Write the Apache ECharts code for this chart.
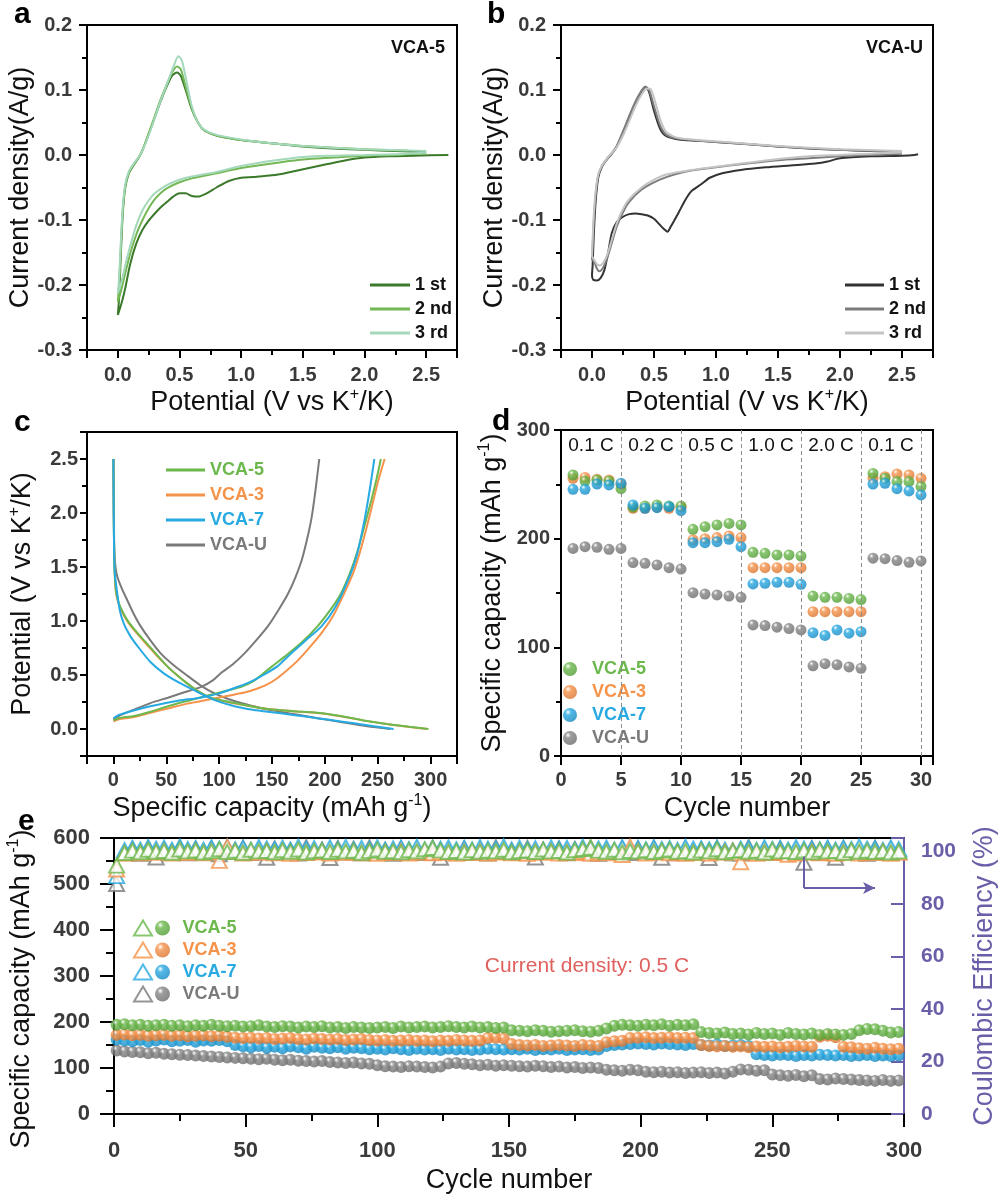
<!DOCTYPE html>
<html><head><meta charset="utf-8">
<script src="https://cdn.jsdelivr.net/npm/echarts@6/dist/echarts.min.js"></script>
<style>html,body{margin:0;padding:0;background:#fff}#c{width:1000px;height:1196px}</style>
</head><body><div id="c"></div>
<script>
// ---------------- DATA ----------------
// Panel a: CV of VCA-5, [potential V, current A/g]
const cvA1 = [[2.68,0.000],[2.4,-0.001],[2.2,-0.002],[2.0,-0.004],[1.85,-0.008],[1.7,-0.014],[1.55,-0.02],[1.4,-0.026],[1.3,-0.03],[1.2,-0.032],[1.1,-0.034],[1.0,-0.035],[0.9,-0.04],[0.8,-0.05],[0.72,-0.059],[0.65,-0.064],[0.6,-0.063],[0.55,-0.059],[0.5,-0.059],[0.45,-0.064],[0.4,-0.072],[0.35,-0.08],[0.3,-0.09],[0.25,-0.101],[0.2,-0.115],[0.15,-0.136],[0.1,-0.168],[0.06,-0.205],[0.03,-0.228],[0.0,-0.246],
  [0.01,-0.22],[0.025,-0.15],[0.04,-0.09],[0.06,-0.05],[0.09,-0.028],[0.13,-0.015],[0.17,-0.004],[0.2,0.007],[0.25,0.032],[0.3,0.058],[0.35,0.084],[0.4,0.107],[0.44,0.122],[0.48,0.127],[0.51,0.122],[0.55,0.1],[0.6,0.07],[0.65,0.05],[0.7,0.038],[0.8,0.03],[0.9,0.026],[1.0,0.023],[1.25,0.018],[1.5,0.013],[1.75,0.01],[2.0,0.008],[2.25,0.006],[2.5,0.005]];
const cvA2 = [[2.5,0.003],[2.25,0.0],[2.0,-0.001],[1.75,-0.004],[1.5,-0.007],[1.25,-0.013],[1.0,-0.02],[0.9,-0.024],[0.8,-0.028],[0.7,-0.032],[0.6,-0.036],[0.5,-0.042],[0.4,-0.051],[0.35,-0.058],[0.3,-0.068],[0.25,-0.082],[0.2,-0.1],[0.15,-0.122],[0.1,-0.152],[0.06,-0.182],[0.03,-0.206],[0.0,-0.226],
  [0.01,-0.2],[0.025,-0.14],[0.04,-0.085],[0.06,-0.048],[0.09,-0.027],[0.13,-0.014],[0.17,-0.003],[0.2,0.008],[0.25,0.033],[0.3,0.06],[0.35,0.087],[0.4,0.11],[0.44,0.127],[0.48,0.136],[0.51,0.132],[0.55,0.105],[0.6,0.072],[0.65,0.05],[0.7,0.038],[0.8,0.03],[1.0,0.023],[1.25,0.018],[1.5,0.014],[2.0,0.009],[2.35,0.007]];
const cvA3 = [[2.5,0.004],[2.25,0.001],[2.0,0.0],[1.75,-0.001],[1.5,-0.003],[1.25,-0.009],[1.0,-0.017],[0.8,-0.026],[0.6,-0.033],[0.5,-0.038],[0.4,-0.046],[0.3,-0.059],[0.25,-0.07],[0.2,-0.085],[0.15,-0.108],[0.1,-0.14],[0.06,-0.17],[0.03,-0.195],[0.0,-0.213],
  [0.01,-0.19],[0.025,-0.13],[0.04,-0.08],[0.06,-0.045],[0.09,-0.025],[0.13,-0.013],[0.17,-0.003],[0.2,0.007],[0.25,0.03],[0.3,0.057],[0.35,0.085],[0.4,0.11],[0.45,0.135],[0.49,0.152],[0.52,0.145],[0.56,0.11],[0.6,0.075],[0.65,0.05],[0.7,0.039],[0.8,0.031],[1.0,0.024],[1.25,0.018],[1.5,0.014],[2.0,0.009],[2.5,0.006]];
// Panel b: CV of VCA-U
const cvB1 = [[2.63,0.001],[2.6,0.0],[2.5,-0.001],[2.25,-0.002],[2.0,-0.005],[1.9,-0.01],[1.8,-0.013],[1.6,-0.016],[1.4,-0.019],[1.2,-0.023],[1.05,-0.028],[0.95,-0.035],[0.88,-0.045],[0.8,-0.056],[0.75,-0.07],[0.7,-0.088],[0.66,-0.102],[0.63,-0.112],[0.61,-0.118],[0.58,-0.114],[0.54,-0.106],[0.5,-0.098],[0.45,-0.093],[0.4,-0.091],[0.35,-0.09],[0.3,-0.091],[0.25,-0.095],[0.2,-0.103],[0.16,-0.12],[0.13,-0.15],[0.1,-0.177],[0.07,-0.189],[0.04,-0.193],[0.01,-0.192],[0.0,-0.185],
  [0.005,-0.17],[0.015,-0.12],[0.03,-0.07],[0.05,-0.035],[0.08,-0.018],[0.12,-0.007],[0.16,0.002],[0.2,0.013],[0.25,0.035],[0.3,0.058],[0.35,0.08],[0.4,0.098],[0.43,0.105],[0.46,0.097],[0.5,0.068],[0.55,0.04],[0.6,0.029],[0.7,0.024],[0.85,0.022],[1.0,0.02],[1.25,0.017],[1.5,0.013],[1.75,0.01],[2.0,0.008],[2.25,0.006],[2.5,0.005]];
const cvB2 = [[2.5,0.002],[2.25,0.0],[2.0,-0.002],[1.75,-0.005],[1.5,-0.008],[1.25,-0.013],[1.0,-0.019],[0.8,-0.024],[0.7,-0.028],[0.6,-0.034],[0.5,-0.042],[0.4,-0.053],[0.3,-0.072],[0.25,-0.088],[0.2,-0.11],[0.16,-0.135],[0.12,-0.16],[0.09,-0.173],[0.06,-0.179],[0.04,-0.175],[0.02,-0.165],[0.0,-0.16],
  [0.005,-0.14],[0.015,-0.1],[0.03,-0.06],[0.05,-0.032],[0.08,-0.017],[0.12,-0.006],[0.16,0.003],[0.2,0.014],[0.25,0.036],[0.3,0.06],[0.35,0.082],[0.4,0.099],[0.43,0.105],[0.46,0.1],[0.5,0.075],[0.55,0.045],[0.6,0.031],[0.7,0.025],[1.0,0.02],[1.5,0.013],[2.0,0.008],[2.5,0.005]];
const cvB3 = [[2.5,0.004],[2.25,0.002],[2.0,0.0],[1.75,-0.002],[1.5,-0.006],[1.25,-0.012],[1.0,-0.018],[0.8,-0.023],[0.6,-0.03],[0.5,-0.038],[0.4,-0.05],[0.3,-0.068],[0.25,-0.083],[0.2,-0.105],[0.16,-0.13],[0.12,-0.155],[0.09,-0.166],[0.06,-0.17],[0.04,-0.168],[0.02,-0.162],[0.0,-0.155],
  [0.005,-0.13],[0.015,-0.09],[0.03,-0.055],[0.05,-0.03],[0.08,-0.016],[0.12,-0.006],[0.16,0.003],[0.2,0.012],[0.25,0.03],[0.3,0.052],[0.35,0.075],[0.4,0.093],[0.44,0.102],[0.47,0.102],[0.5,0.088],[0.55,0.055],[0.6,0.035],[0.7,0.026],[1.0,0.021],[1.5,0.014],[2.0,0.009],[2.5,0.006]];
// Panel c: charge/discharge profiles, [capacity mAh/g, potential V]
const dis5 = [[0,2.5],[0.3,2.0],[0.6,1.7],[1,1.5],[2,1.32],[4,1.2],[8,1.1],[13,1.01],[20,0.92],[29,0.82],[40,0.7],[51,0.58],[60,0.5],[70,0.42],[80,0.35],[89,0.3],[100,0.27],[115,0.24],[130,0.21],[146,0.185],[170,0.165],[193,0.15],[215,0.12],[240,0.075],[260,0.045],[280,0.02],[298,0.0]];
const chg5 = [[0,0.08],[5,0.1],[19.5,0.12],[35,0.16],[51.5,0.21],[70,0.26],[89,0.31],[105,0.35],[121,0.39],[132,0.44],[140,0.5],[150,0.58],[162,0.67],[178,0.8],[193,0.95],[205,1.1],[215,1.25],[224,1.45],[231,1.65],[238,1.9],[244,2.12],[249,2.32],[253,2.5]];
const dis3 = [[0,2.5],[0.3,2.0],[0.6,1.7],[1,1.5],[2,1.3],[4,1.19],[8,1.09],[13,1.0],[20,0.91],[29,0.81],[40,0.69],[51,0.58],[60,0.5],[70,0.42],[80,0.35],[89,0.3],[100,0.265],[115,0.235],[130,0.21],[146,0.185],[170,0.165],[193,0.148],[215,0.118],[240,0.073],[260,0.043],[280,0.018],[297,0.0]];
const chg3 = [[0,0.07],[5,0.09],[19.5,0.11],[35,0.15],[51.5,0.19],[70,0.235],[89,0.27],[105,0.3],[115,0.32],[125,0.34],[135,0.37],[145,0.41],[155,0.47],[165,0.55],[175,0.64],[186,0.76],[197,0.89],[208,1.05],[218,1.25],[227,1.45],[235,1.7],[243,2.0],[250,2.28],[256.5,2.5]];
const dis7 = [[0,2.5],[0.3,2.0],[0.6,1.7],[1.2,1.45],[3.7,1.25],[6,1.1],[10,0.97],[16,0.86],[22.6,0.77],[35,0.62],[47,0.52],[60,0.44],[70,0.39],[82,0.33],[95,0.27],[114.6,0.21],[130,0.18],[146,0.16],[170,0.13],[193,0.1],[215,0.07],[240,0.035],[265,0.0]];
const chg7 = [[0,0.1],[5,0.13],[15,0.16],[35,0.21],[60,0.26],[82,0.29],[100,0.33],[114.6,0.38],[128,0.43],[140,0.49],[155,0.58],[168,0.7],[183,0.83],[196.8,0.95],[210,1.13],[222,1.38],[230,1.6],[238,1.96],[243,2.25],[246.8,2.5]];
const disU = [[0,2.5],[0.3,2.1],[0.6,1.8],[1,1.62],[2,1.5],[3.7,1.41],[8,1.3],[13.2,1.19],[19,1.07],[25.8,0.95],[35,0.82],[44.7,0.7],[57,0.59],[70.4,0.49],[83,0.4],[95.6,0.33],[108,0.28],[120.8,0.24],[133,0.21],[146,0.18],[170,0.14],[193,0.1],[215,0.065],[240,0.025],[262,0.0]];
const chgU = [[0,0.09],[5,0.12],[19.5,0.18],[35,0.24],[51.5,0.29],[67,0.34],[83,0.39],[94,0.45],[102,0.52],[113,0.6],[124,0.7],[135,0.82],[146,0.95],[156,1.1],[165,1.25],[172,1.4],[178,1.56],[183,1.75],[187.5,1.96],[191,2.2],[194.7,2.5]];
// Panel d: rate capability, cycles 1..30
const rateLabels = ['0.1 C','0.2 C','0.5 C','1.0 C','2.0 C','0.1 C'];
const rateBounds = [0,5,10,15,20,25,30];
const rate5 = [258.6,253,254,253,246, 229,230,231,230,230, 208.6,211,212.6,214,212.6, 187.4,186.5,185,185,184, 147.2,146,146,145,144, 260,255.5,252.5,252.5,248];
const rate3 = [255.5,256.4,254.6,254,250, 228,228,229,228,229, 199,200,201,202.5,201, 173.3,173.3,173.3,173.3,173.3, 132.8,132.8,132.8,132.8,132.8, 255.5,257,259.5,258.6,255.5];
const rate7 = [245.4,245.4,250.3,249.4,251, 231,228,228.5,229.4,225.8, 196.3,196.3,197.2,199.4,192.6, 158.3,158.9,159.8,159.8,158, 113.5,111,116,113,114.4, 250.3,251,246,243.9,240.2];
const rateU = [191,192.6,192,190.2,191, 178,177.3,175.8,173.3,172, 150.3,149,148.2,147.2,146, 120.6,120,118.5,117.3,116, 83,85,84,82,80.7, 182,181.6,179.8,178.2,179.5];
// Panel e: long cycling, one value every CYCLE_STEP cycles starting at cycle 1
const CYCLE_STEP = 3;
const cap5 = [194,195,193,194,192,193,194,192,193,191, 193,192,194,192,191,192,190,191,193,190, 189,191,190,188,190,189,191,188,189,187, 189,188,187,188,189,187,190,188,189,190, 188,189,191,189,188,190,188,189,187,188, 182,181,180,182,181,179,180,181,182,180, 179,181,186,192,194,193,192,194,193,195, 192,194,193,195,178,176,175,177,174,175, 173,176,174,175,172,176,174,173,175,172, 174,173,172,174,182,185,184,181,177,178];
const cap3 = [172,173,171,172,170,171,172,170,171,169, 170,171,169,170,168,166,165,166,164,165, 163,164,165,163,162,164,163,162,163,161, 162,163,161,160,161,159,160,161,159,160, 158,160,159,161,160,159,160,165,166,164, 152,150,149,150,148,149,150,149,148,150, 149,148,156,158,159,165,166,167,165,166, 167,165,166,165,150,148,147,148,146,147, 145,147,146,147,145,146,148,147,146,168, 170,167,146,145,143,142,144,142,141,142];
const cap7 = [162,160,158,161,157,160,162,158,159,161, 157,160,159,161,158,150,147,145,148,144, 146,143,147,145,142,146,144,143,145,142, 144,143,141,142,140,143,141,139,142,140, 141,139,142,140,141,139,140,142,141,140, 141,140,142,139,141,140,142,139,140,141, 139,140,148,150,151,152,153,152,151,153, 152,151,150,152,150,149,151,148,149,150, 148,130,128,127,129,128,126,128,127,129, 128,127,128,126,127,128,126,127,126,127];
const capU = [138,136,135,134,132,133,131,130,129,128, 127,126,125,124,123,122,121,120,119,120, 118,117,118,116,115,114,115,113,112,111, 112,110,109,106,104,103,102,104,103,102, 101,103,110,111,109,108,106,107,105,106, 105,104,103,105,104,102,103,101,102,100, 101,100,96,95,94,96,95,92,91,92, 90,91,89,90,91,89,90,88,92,97, 96,94,95,86,84,83,85,82,84,76, 75,77,76,75,74,73,72,74,72,73];
const ce5 = [94.5,99.3,100.2,99.6,100.5,99.8,100.1,99.4,100.6,99.9, 100.3,99.5,100.0,100.7,99.7,100.2,99.4,100.5,99.9,100.1, 99.6,100.4,99.8,100.6,99.5,100.0,100.3,99.7,100.5,99.9, 100.2,99.4,100.1,100.6,99.8,100.0,99.6,100.4,99.9,100.7, 101.2,100.3,99.7,100.1,99.5,100.4,99.8,100.2,99.9,100.5, 99.6,100.0,100.3,99.7,100.6,99.9,100.1,99.5,100.4,100.8, 101.3,100.2,99.8,100.5,99.6,100.1,99.9,100.4,99.7,100.2, 100.6,99.8,100.0,99.5,100.3,99.9,100.7,99.6,100.1,100.4, 99.8,100.2,99.5,100.6,99.9,100.0,99.7,100.3,99.6,100.5, 99.9,100.1,99.4,100.4,99.8,100.2,99.7,100.0,99.5,99.9];
const ce3 = [93.0,99.0,99.6,99.2,100.0,99.4,99.8,99.1,99.7,99.3, 99.9,99.2,99.6,96.3,101.7,99.8,99.1,99.7,99.4,100.0, 99.2,99.6,99.0,99.8,99.3,99.5,99.9,99.1,99.7,99.4, 99.6,99.2,99.8,99.0,99.6,99.3,99.9,99.1,99.5,99.8, 99.2,99.6,99.4,99.0,99.7,99.3,99.9,99.1,99.5,99.8, 99.2,99.6,99.0,99.7,99.4,99.9,99.1,99.5,99.3,99.8, 99.0,99.6,99.2,99.7,98.5,101.7,99.9,99.1,99.5,99.8, 99.2,99.6,99.0,99.3,99.7,99.1,99.5,99.8,99.2,95.8, 99.4,99.0,99.6,99.3,99.7,98.6,99.1,99.5,99.8,99.2, 99.6,99.0,99.4,99.7,99.1,99.5,99.3,99.8,99.0,99.4];
const ce7 = [90.5,100.4,101.2,100.6,101.5,100.9,101.3,100.5,101.7,100.8, 101.1,100.6,101.4,100.9,101.6,100.7,101.2,100.5,101.5,101.0, 100.8,101.3,100.6,101.7,100.9,101.1,100.5,101.4,100.8,101.6, 100.7,101.2,100.9,101.5,100.6,101.0,101.3,100.8,101.6,100.5, 101.1,100.9,101.4,100.7,101.2,100.6,101.5,100.9,101.0,101.8, 100.6,101.3,100.8,101.1,100.5,101.4,100.9,101.2,100.7,101.6, 100.8,101.0,101.3,100.6,101.5,100.9,101.2,100.7,101.4,100.8, 101.1,100.5,101.6,100.9,101.0,100.7,101.3,100.6,99.2,100.9, 101.2,100.5,101.4,100.8,101.1,100.6,101.5,100.9,101.0,100.7, 101.3,100.6,101.2,100.8,101.7,100.9,101.1,100.5,101.4,100.8];
const ceU = [87.5,99.5,100.8,99.0,101.2,97.6,100.5,99.8,101.4,99.2, 100.9,99.6,101.1,98.8,100.4,99.9,101.3,99.3,100.7,97.5, 101.0,99.7,100.3,99.1,101.5,99.8,100.6,97.4,101.2,99.5, 100.9,99.2,101.4,99.9,100.5,99.0,101.1,99.6,100.8,99.3, 101.3,97.5,100.4,99.8,101.0,99.4,100.7,99.1,101.5,99.7, 100.2,99.5,101.2,97.6,100.6,99.9,101.0,99.2,100.8,99.6, 101.4,99.0,100.5,99.8,101.1,99.3,100.9,99.7,101.3,97.5, 100.4,99.2,101.0,99.6,100.7,97.4,101.2,99.8,100.3,99.1, 101.5,99.6,100.8,99.4,101.0,99.9,100.6,95.6,101.1,99.3, 100.9,97.5,101.2,99.7,100.4,99.0,101.3,99.5,100.7,99.8];
// arrow annotation in panel e (cycle, CE %)
const ceArrow = {cycle: 262, fromCE: 98, toCE: 86, toCycle: 289};

// ---------------- STYLE ----------------
const FONT = "'Liberation Sans', Arial, Helvetica, sans-serif";
const PURPLE = '#6a5ea8';
const C5 = '#6cb84c', C3 = '#f5934a', C7 = '#27a9e1', CU = '#858585';

function rich(color) {
  return {
    t: {fontSize: 27, fontFamily: FONT, color: color, lineHeight: 31},
    s: {fontSize: 16, fontFamily: FONT, color: color, verticalAlign: 'top', lineHeight: 16},
    p: {width: 26, lineHeight: 31}
  };
}
function clean(o) { Object.keys(o).forEach(k => { if (o[k] === undefined) delete o[k]; }); return o; }
function valAxis(o) {
  const col = o.color || '#000';
  return clean({
    type: 'value', gridIndex: o.grid, min: o.min, max: o.max, interval: o.interval, splitNumber: o.splitNumber,
    position: o.position,
    name: o.name, nameLocation: 'middle', nameGap: o.nameGap, nameRotate: o.nameRotate,
    nameTextStyle: {rich: rich(o.nameColor || '#111')},
    axisLine: {show: true, onZero: false, lineStyle: {color: col, width: 2}},
    axisTick: {show: true, inside: !!o.inside, length: o.tickLen || 8, lineStyle: {color: col, width: 2}},
    minorTick: {show: o.minor !== false, splitNumber: 2, length: o.minorLen || 5, lineStyle: {color: col, width: 2}},
    splitLine: {show: false}, minorSplitLine: {show: false},
    axisLabel: {show: true, color: o.labelColor || '#3a3a3a', fontWeight: 'bold', fontSize: o.labelSize || 20,
      fontFamily: FONT, margin: o.margin || 14, formatter: o.formatter, hideOverlap: false}
  });
}
const near = (a, b) => Math.abs(a - b) < 1e-6;
const fmt1 = v => near(v, 0) ? '0.0' : v.toFixed(1);
const fmtHalf = (lo, hi) => v => (v > lo - 1e-6 && v < hi + 1e-6 && near(v * 2, Math.round(v * 2))) ? fmt1(v) : '';
const fmtStep = (step, lo, hi) => v => (v > lo - 1e-6 && v < hi + 1e-6 && near(v / step, Math.round(v / step))) ? String(Math.round(v)) : '';

function sphere(base, dark) {
  return {type: 'radial', x: 0.36, y: 0.3, r: 0.75,
    colorStops: [{offset: 0, color: '#ffffff'}, {offset: 0.28, color: base}, {offset: 1, color: dark}]};
}
function lineS(name, data, color, ax) {
  return {type: 'line', name: name, data: data, xAxisIndex: ax, yAxisIndex: ax, symbol: 'none', showSymbol: false,
    smooth: 0.25, lineStyle: {color: color, width: 2}, itemStyle: {color: color}, z: 2};
}
function dotS(name, data, base, dark, xi, yi, size) {
  return {type: 'scatter', name: name, data: data, xAxisIndex: xi, yAxisIndex: yi, symbol: 'circle', symbolSize: size,
    itemStyle: {color: sphere(base, dark)}, z: 3};
}
function triS(name, data, color, xi, yi) {
  return {type: 'scatter', name: name, data: data, xAxisIndex: xi, yAxisIndex: yi, symbol: 'emptyTriangle', symbolSize: [15, 14],
    itemStyle: {color: color, borderColor: color, borderWidth: 1.8}, z: 3};
}
const byCycle = arr => arr.map((v, i) => [1 + i * CYCLE_STEP, v]);
const byIndex = arr => arr.map((v, i) => [i + 1, v]);

const POT = '{t|Potential (V vs K}{s|+}{t|/K)}';
const SPC = '{t|Specific capacity (mAh g}{s|-1}{t|)}';
const legText = {fontSize: 18, fontWeight: 'bold', fontFamily: FONT, color: '#111'};
const colItem = (name, color) => ({name: name, textStyle: {color: color, fontSize: 18, fontWeight: 'bold', fontFamily: FONT}});
const lineItem = (name, color) => ({name: name, icon: 'rect', textStyle: {color: color, fontSize: 18, fontWeight: 'bold', fontFamily: FONT}});
const trim = n => n.trim();

const gridBase = {show: true, borderColor: '#000', borderWidth: 2, containLabel: false, outerBoundsMode: 'none'};

const rateSeriesU = dotS('VCA-U ', byIndex(rateU), CU, '#6a6a6a', 3, 3, 11);
rateSeriesU.markLine = {silent: true, symbol: ['none', 'none'], label: {show: false},
  lineStyle: {type: [4, 3], color: '#8c8c8c', width: 1},
  data: rateBounds.slice(1).map(x => ({xAxis: x}))};
rateSeriesU.markArea = {silent: true, itemStyle: {color: 'rgba(0,0,0,0)'},
  label: {show: true, position: 'insideTop', distance: 6, color: '#111', fontSize: 19, fontFamily: FONT},
  data: rateLabels.map((t, i) => [{name: t, xAxis: rateBounds[i]}, {xAxis: rateBounds[i + 1]}])};

const ceGreen = triS('VCA-5 CE', byCycle(ce5), C5, 4, 5);
ceGreen.markLine = {silent: true, symbolSize: [9, 12], label: {show: false},
  lineStyle: {color: PURPLE, width: 2, type: 'solid'},
  data: [
    [{coord: [ceArrow.cycle, ceArrow.fromCE], symbol: 'none'}, {coord: [ceArrow.cycle, ceArrow.toCE], symbol: 'none'}],
    [{coord: [ceArrow.cycle, ceArrow.toCE], symbol: 'none'}, {coord: [ceArrow.toCycle, ceArrow.toCE], symbol: 'arrow'}]
  ]};

const option = {
  backgroundColor: '#ffffff',
  animation: false,
  textStyle: {fontFamily: FONT},
  grid: [
    Object.assign({left: 87, top: 25, width: 370, height: 325}, gridBase),
    Object.assign({left: 561, top: 25, width: 372, height: 325}, gridBase),
    Object.assign({left: 87, top: 432, width: 370, height: 324}, gridBase),
    Object.assign({left: 561, top: 430, width: 372, height: 326}, gridBase),
    Object.assign({left: 114, top: 838, width: 790, height: 276}, gridBase)
  ],
  xAxis: [
    valAxis({grid: 0, min: -0.25, max: 2.75, splitNumber: 6, name: POT, nameGap: 37, margin: 15, formatter: fmtHalf(0, 2.5)}),
    valAxis({grid: 1, min: -0.25, max: 2.75, splitNumber: 6, name: POT, nameGap: 37, margin: 15, formatter: fmtHalf(0, 2.5)}),
    valAxis({grid: 2, min: -25, max: 325, splitNumber: 7, name: SPC, nameGap: 37, margin: 14, formatter: fmtStep(50, 0, 300)}),
    valAxis({grid: 3, min: 0, max: 31, interval: 5, minor: false, tickLen: 9, name: '{t|Cycle number}', nameGap: 37, margin: 14, formatter: fmtStep(5, 0, 30)}),
    valAxis({grid: 4, min: 0, max: 300, interval: 50, tickLen: 13, minorLen: 7, labelSize: 22, name: '{t|Cycle number}', nameGap: 51, margin: 26, formatter: fmtStep(50, 0, 300)})
  ],
  yAxis: [
    valAxis({grid: 0, min: -0.3, max: 0.2, interval: 0.1, name: '{t|Current density(A/g)}', nameGap: 51, nameRotate: 90, margin: 15, formatter: fmt1}),
    valAxis({grid: 1, min: -0.3, max: 0.2, interval: 0.1, name: '{t|Current density(A/g)}', nameGap: 51, nameRotate: 90, margin: 15, formatter: fmt1}),
    valAxis({grid: 2, min: -0.25, max: 2.75, splitNumber: 6, tickLen: 7, name: POT, nameGap: 49, nameRotate: 90, margin: 9, formatter: fmtHalf(0, 2.5)}),
    valAxis({grid: 3, min: 0, max: 300, interval: 100, tickLen: 7, name: SPC, nameGap: 53, nameRotate: 90, margin: 11, formatter: fmtStep(100, 0, 300)}),
    valAxis({grid: 4, min: 0, max: 600, interval: 100, position: 'left', tickLen: 14, minorLen: 8, labelSize: 22, name: SPC + '{p|}', nameGap: 77, nameRotate: 90, margin: 24, formatter: fmtStep(100, 0, 600)}),
    valAxis({grid: 4, min: 0, max: 105, interval: 20, position: 'right', color: PURPLE, labelColor: PURPLE, nameColor: PURPLE, inside: true, minor: false, tickLen: 13, labelSize: 21, name: '{t|Coulombic Efficiency (%)}', nameGap: 65, nameRotate: 90, margin: 17, formatter: fmtStep(20, 0, 100)})
  ],
  legend: [
    {data: [lineItem('1 st', '#111'), lineItem('2 nd', '#111'), lineItem('3 rd', '#111')], left: 365, top: 271, orient: 'vertical', itemWidth: 40, itemHeight: 3, itemGap: 6, textStyle: legText, selectedMode: false},
    {data: [lineItem('1 st ', '#111'), lineItem('2 nd ', '#111'), lineItem('3 rd ', '#111')], formatter: trim, left: 840, top: 271, orient: 'vertical', itemWidth: 39, itemHeight: 3, itemGap: 6, textStyle: legText, selectedMode: false},
    {data: [lineItem('VCA-5', C5), lineItem('VCA-3', C3), lineItem('VCA-7', C7), lineItem('VCA-U', '#7a7a7a')], left: 161, top: 456, orient: 'vertical', itemWidth: 39, itemHeight: 3, itemGap: 7, textStyle: legText, selectedMode: false},
    {data: [colItem('VCA-5 ', C5), colItem('VCA-3 ', C3), colItem('VCA-7 ', C7), colItem('VCA-U ', '#7a7a7a')], formatter: trim, left: 558, top: 655, orient: 'vertical', itemWidth: 34, itemHeight: 14, itemGap: 5, textStyle: legText, selectedMode: false},
    {data: ['VCA-5 CE', 'VCA-3 CE', 'VCA-7 CE', 'VCA-U CE'], formatter: () => ' ', left: 128, top: 914, orient: 'vertical', itemWidth: 18, itemHeight: 15, itemGap: 4, textStyle: legText, selectedMode: false},
    {data: [colItem('VCA-5  ', C5), colItem('VCA-3  ', C3), colItem('VCA-7  ', C7), colItem('VCA-U  ', '#7a7a7a')], formatter: trim, left: 150, top: 914, orient: 'vertical', itemWidth: 30, itemHeight: 15, itemGap: 4, textStyle: legText, selectedMode: false}
  ],
  series: [
    lineS('1 st', cvA1, '#3b7a2a', 0), lineS('2 nd', cvA2, '#74b755', 0), lineS('3 rd', cvA3, '#a3d8bb', 0),
    lineS('1 st ', cvB1, '#333333', 1), lineS('2 nd ', cvB2, '#7c7c7c', 1), lineS('3 rd ', cvB3, '#c4c4c4', 1),
    lineS('VCA-U', disU, '#7a7a7a', 2), lineS('VCA-U charge', chgU, '#7a7a7a', 2),
    lineS('VCA-3', dis3, C3, 2), lineS('VCA-3 charge', chg3, C3, 2),
    lineS('VCA-5', dis5, C5, 2), lineS('VCA-5 charge', chg5, C5, 2),
    lineS('VCA-7', dis7, C7, 2), lineS('VCA-7 charge', chg7, C7, 2),
    dotS('VCA-3 ', byIndex(rate3), C3, '#d8702c', 3, 3, 11),
    dotS('VCA-5 ', byIndex(rate5), C5, '#4f9a33', 3, 3, 11),
    dotS('VCA-7 ', byIndex(rate7), C7, '#1286c0', 3, 3, 11),
    rateSeriesU,
    dotS('VCA-U  ', byCycle(capU), CU, '#6a6a6a', 4, 4, 12),
    dotS('VCA-7  ', byCycle(cap7), C7, '#1286c0', 4, 4, 12),
    dotS('VCA-3  ', byCycle(cap3), C3, '#d8702c', 4, 4, 12),
    dotS('VCA-5  ', byCycle(cap5), C5, '#4f9a33', 4, 4, 12),
    triS('VCA-U CE', byCycle(ceU), '#7a7a7a', 4, 5),
    triS('VCA-7 CE', byCycle(ce7), C7, 4, 5),
    triS('VCA-3 CE', byCycle(ce3), C3, 4, 5),
    ceGreen
  ],
  graphic: [
    {type: 'text', x: 14, y: 0, style: {text: 'a', fontSize: 30, fontWeight: 'bold', fontFamily: FONT, fill: '#000'}},
    {type: 'text', x: 487, y: 0, style: {text: 'b', fontSize: 30, fontWeight: 'bold', fontFamily: FONT, fill: '#000'}},
    {type: 'text', x: 14, y: 408, style: {text: 'c', fontSize: 30, fontWeight: 'bold', fontFamily: FONT, fill: '#000'}},
    {type: 'text', x: 492, y: 407, style: {text: 'd', fontSize: 30, fontWeight: 'bold', fontFamily: FONT, fill: '#000'}},
    {type: 'text', x: 18, y: 807, style: {text: 'e', fontSize: 30, fontWeight: 'bold', fontFamily: FONT, fill: '#000'}},
    {type: 'text', x: 445, y: 48, style: {text: 'VCA-5', fontSize: 18, fontWeight: 'bold', fontFamily: FONT, fill: '#111', align: 'right', verticalAlign: 'middle'}},
    {type: 'text', x: 923, y: 48, style: {text: 'VCA-U', fontSize: 18, fontWeight: 'bold', fontFamily: FONT, fill: '#111', align: 'right', verticalAlign: 'middle'}},
    {type: 'text', x: 587, y: 966, style: {text: 'Current density: 0.5 C', fontSize: 21, fontFamily: FONT, fill: '#e0605e', align: 'center', verticalAlign: 'middle'}}
  ]
};
const chart = echarts.init(document.getElementById('c'), null, {renderer: 'canvas'});
chart.setOption(option);
</script></body></html>
